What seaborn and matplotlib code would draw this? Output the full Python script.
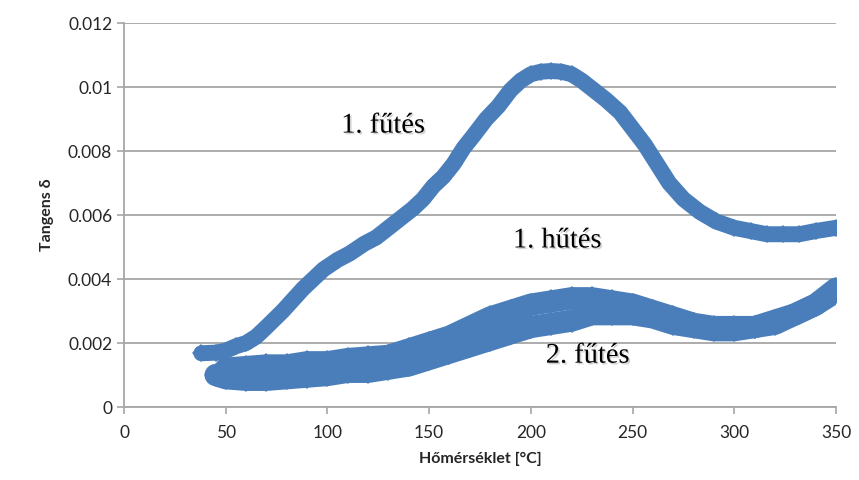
import matplotlib
matplotlib.use("Agg")
import matplotlib.pyplot as plt
import matplotlib.patheffects as pe
import seaborn as sns
import pandas as pd

# 1. fűtés (first heating)
heat1_x = [38, 45, 50, 55, 60, 65, 70, 78, 88, 98, 105, 111, 118, 124, 130, 136, 142, 147,
           152, 157, 162, 167, 172, 178, 184, 190, 195, 200, 205, 210, 215, 220, 225, 231,
           237, 244, 250, 256, 262, 268, 275, 283, 291, 300, 308, 316, 324, 332, 340, 350]
heat1_y = [0.00168, 0.00170, 0.00176, 0.0019, 0.0020, 0.0022, 0.0025, 0.0030, 0.0037, 0.0043,
           0.0046, 0.0048, 0.0051, 0.0053, 0.0056, 0.0059, 0.0062, 0.0065, 0.0069, 0.0072,
           0.0076, 0.0081, 0.0085, 0.0090, 0.0094, 0.0099, 0.0102, 0.01040, 0.01048, 0.0105,
           0.01048, 0.0104, 0.0102, 0.0099, 0.0096, 0.0092, 0.0087, 0.0082, 0.0076, 0.0070,
           0.0065, 0.0061, 0.0058, 0.0056, 0.0055, 0.0054, 0.0054, 0.0054, 0.0055, 0.0056]

# 1. hűtés (first cooling)
cool1_x = [50, 60, 70, 80, 90, 100, 110, 120, 130, 140, 150, 160, 170, 180, 190, 200, 210,
           220, 230, 240, 250, 260, 270, 280, 290, 300, 310, 320, 330, 340, 350]
cool1_y = [0.0012, 0.00125, 0.0013, 0.0013, 0.0014, 0.0014, 0.0015, 0.00155, 0.0016, 0.0018,
           0.0020, 0.0022, 0.0025, 0.0028, 0.0030, 0.0032, 0.0033, 0.0034, 0.0034, 0.0033,
           0.0032, 0.0030, 0.0028, 0.0026, 0.0025, 0.0025, 0.0025, 0.0027, 0.0029, 0.0032,
           0.0037]

# 2. fűtés (second heating)
heat2_x = [45, 50, 60, 70, 80, 90, 100, 110, 120, 130, 140, 150, 160, 170, 180, 190, 200,
           210, 220, 230, 240, 250, 260, 270, 280, 290, 300, 310, 320, 330, 340, 350]
heat2_y = [0.0010, 0.0009, 0.00085, 0.00085, 0.0009, 0.00095, 0.0010, 0.0011, 0.0011,
           0.0012, 0.0013, 0.0015, 0.0017, 0.0019, 0.0021, 0.0023, 0.0025, 0.0026, 0.0027,
           0.0029, 0.0029, 0.0029, 0.0028, 0.0026, 0.0025, 0.0024, 0.0024, 0.0025, 0.0026,
           0.0029, 0.0032, 0.0036]

y_ticks = [0, 0.002, 0.004, 0.006, 0.008, 0.010, 0.012]
y_tick_labels = ["0", "0.002", "0.004", "0.006", "0.008", "0.01", "0.012"]
x_ticks = [0, 50, 100, 150, 200, 250, 300, 350]

labels = ["1. fűtés", "1. hűtés", "2. fűtés"]
label_pos = [(127.3, 0.00878), (212.9, 0.00519), (227.9, 0.00159)]

sns.set_style("white")
plt.rcParams["font.family"] = ["Lato", "DejaVu Sans"]

color = "#4a7ebb"
fig = plt.figure(figsize=(8.59, 4.80), dpi=100)
ax = fig.add_axes([0.1444, 0.152, 0.8288, 0.800])

series = [(heat2_x, heat2_y, 16, 12), (cool1_x, cool1_y, 16, 12), (heat1_x, heat1_y, 11.5, 9)]
for xs, ys, lw, ms in series:
    df = pd.DataFrame({"x": xs, "y": ys})
    sns.lineplot(data=df, x="x", y="y", ax=ax, sort=False, color=color,
                 linewidth=lw, marker="D", markersize=ms, markeredgewidth=0,
                 markeredgecolor=color, markerfacecolor=color,
                 solid_joinstyle="round", solid_capstyle="round")

ax.set_xlim(0, 350)
ax.set_ylim(0, 0.012)
ax.set_yticks(y_ticks)
ax.set_yticklabels(y_tick_labels)
ax.set_xticks(x_ticks)
ax.yaxis.grid(True, color="#a6a6a6", linewidth=1.3)
ax.set_axisbelow(True)
for side in ["top", "right"]:
    ax.spines[side].set_visible(False)
for side in ["left", "bottom"]:
    ax.spines[side].set_color("#a6a6a6")
    ax.spines[side].set_linewidth(1.3)
ax.tick_params(axis="both", which="both", direction="out", length=5, width=1.2,
               color="#a6a6a6", labelsize=12.5, labelcolor="#262626", left=True, bottom=True)
ax.tick_params(axis="x", pad=8)

ax.set_xlabel("Hőmérséklet [°C]", fontsize=11.5, fontweight="bold", color="#262626", labelpad=8)
ax.set_ylabel("Tangens δ", fontsize=11.5, fontweight="bold", color="#262626", labelpad=10)

for txt, (tx, ty) in zip(labels, label_pos):
    ax.text(tx, ty, txt, fontsize=20.5, family=["Liberation Serif", "DejaVu Serif"],
            ha="center", va="center", color="black",
            path_effects=[pe.withSimplePatchShadow(offset=(1.2, -1.2), shadow_rgbFace="#808080",
                                                   alpha=0.35)])

fig.savefig("out.png", dpi=100)
